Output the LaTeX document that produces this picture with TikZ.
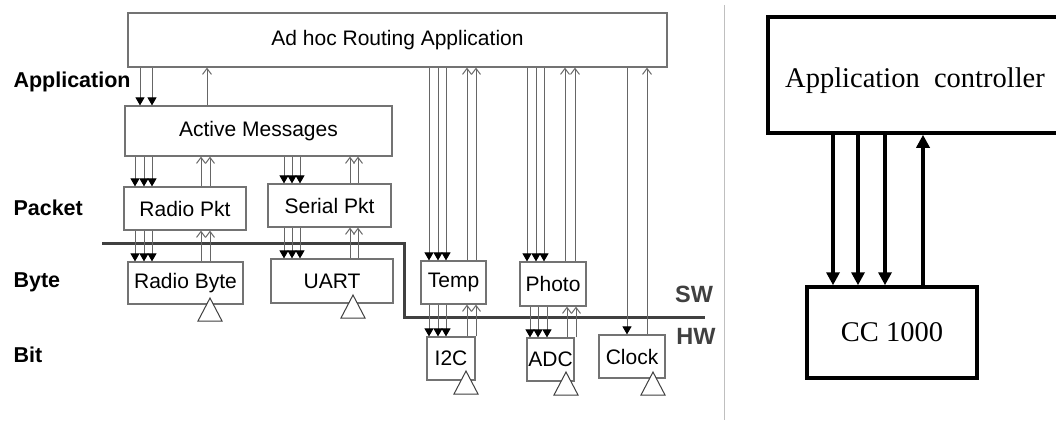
\documentclass[tikz,border=0pt]{standalone}
\usepackage{fontspec}
\setmainfont{Liberation Serif}
\newfontfamily\comic{Liberation Sans}
\usetikzlibrary{arrows.meta}

\newcommand\cmc{\comic\fontsize{21}{25}\selectfont}
\newcommand\cmcb{\comic\bfseries\fontsize{21.5}{25}\selectfont}
\newcommand\tms{\rmfamily\fontsize{28.5}{32}\selectfont}

\begin{document}
\begin{tikzpicture}[
    x=1pt, y=-1pt,
    box/.style={draw=black!55, line width=1.2pt, font=\cmc, inner sep=0pt},
    lbl/.style={font=\cmcb, anchor=west},
    swhw/.style={font=\comic\bfseries\fontsize{23.5}{26}\selectfont, text=black!75},
    dn/.style={draw=black!60, line width=1pt, -{Triangle[length=8pt,width=9pt,color=black]}},
    up/.style={draw=black!60, line width=1pt, -{Straight Barb[length=6pt,width=9pt]}},
    tri/.style={draw=black!75, line width=1pt, fill=white},
    bigbox/.style={draw, line width=3.5pt, font=\tms, inner sep=0pt},
    bigarr/.style={line width=3.5pt, -{Triangle[length=13pt,width=13pt]}},
]
    \clip (0,0) rectangle (1056,420);
    % Layers
    \node[lbl] (lapp) at (10,82) {Application};
    \node[lbl] (lpkt) at (10,208) {Packet};
    \node[lbl] (lbyte) at (10,282) {Byte};
    \node[lbl] (lbit) at (10,355) {Bit};
    % Components
    \node[box, minimum width=539pt, minimum height=54pt] (adhoc) at (397.5,40) {Ad hoc Routing Application};
    \node[box, minimum width=267pt, minimum height=50pt] (am) at (258.5,131) {Active Messages};
    \node[box, minimum width=122pt, minimum height=43pt] (rpkt) at (185,208.5) {Radio Pkt};
    \node[box, minimum width=123pt, minimum height=43pt] (spkt) at (329.5,205.5) {Serial Pkt};
    \node[box, minimum width=115pt, minimum height=42pt] (rbyte) at (185.5,283) {Radio Byte};
    \node[box, minimum width=122pt, minimum height=44pt] (uart) at (332,281) {UART};
    \node[box, minimum width=65pt, minimum height=43pt] (temp) at (453.5,282.5) {Temp};
    \node[box, minimum width=66pt, minimum height=44pt] (photo) at (553,284) {Photo};
    \node[box, minimum width=48pt, minimum height=43pt] (i2c) at (451,358.5) {I2C};
    \node[box, minimum width=47pt, minimum height=43pt] (adc) at (550.5,359.5) {ADC};
    \node[box, minimum width=66pt, minimum height=43pt] (clock) at (632,356.5) {Clock};
    % SW / HW boundary
    \draw[line width=3pt, black!75] (102,243) -- (404,243) -- (404,317) -- (705,317);
    \node[swhw] (sw) at (694,294) {SW};
    \node[swhw] (hw) at (696,336) {HW};
    % Hardware triangles
    \foreach \x/\y in {210/298, 353/295, 466/371, 566/372, 653/372}
        \draw[tri] (\x,\y) -- ++(-12,23) -- ++(24,0) -- cycle;
    % Application <-> Active Messages
    \foreach \x in {140,152}
        \draw[dn] (adhoc.south -| \x,0) -- (am.north -| \x,0);
    \draw[up] (am.north -| 207,0) -- (adhoc.south -| 207,0);
    % Radio stack
    \foreach \x in {135,144,152} {
        \draw[dn] (am.south -| \x,0) -- (rpkt.north -| \x,0);
        \draw[dn] (rpkt.south -| \x,0) -- (rbyte.north -| \x,0);
    }
    \foreach \x in {201,210} {
        \draw[up] (rpkt.north -| \x,0) -- (am.south -| \x,0);
        \draw[up] (rbyte.north -| \x,0) -- (rpkt.south -| \x,0);
    }
    % Serial stack
    \foreach \x in {284,292,300} {
        \draw[dn] (am.south -| \x,0) -- (spkt.north -| \x,0);
        \draw[dn] (spkt.south -| \x,0) -- (uart.north -| \x,0);
    }
    \foreach \x in {350,358} {
        \draw[up] (spkt.north -| \x,0) -- (am.south -| \x,0);
        \draw[up] (uart.north -| \x,0) -- (spkt.south -| \x,0);
    }
    % Sensors
    \foreach \x in {429,438,446} {
        \draw[dn] (adhoc.south -| \x,0) -- (temp.north -| \x,0);
        \draw[dn] (temp.south -| \x,0) -- (i2c.north -| \x,0);
    }
    \foreach \x in {467,476} {
        \draw[up] (temp.north -| \x,0) -- (adhoc.south -| \x,0);
        \draw[up] (i2c.north -| \x,0) -- (temp.south -| \x,0);
    }
    \foreach \x in {527,536,544}
        \draw[dn] (adhoc.south -| \x,0) -- (photo.north -| \x,0);
    \foreach \x in {530,538,547}
        \draw[dn] (photo.south -| \x,0) -- (adc.north -| \x,0);
    \foreach \x in {565,575}
        \draw[up] (photo.north -| \x,0) -- (adhoc.south -| \x,0);
    \foreach \x in {567,576}
        \draw[up] (adc.north -| \x,0) -- (photo.south -| \x,0);
    % Clock
    \draw[dn] (adhoc.south -| 627,0) -- (clock.north -| 627,0);
    \draw[up] (clock.north -| 647,0) -- (adhoc.south -| 647,0);
    % Separator
    \draw[black!25, line width=1pt] (724,5) -- (724,420);
    % Right: controller and radio
    \node[bigbox, minimum width=294pt, minimum height=116pt] (appc) at (915,75) {\raisebox{-6pt}[\height][\depth]{Application\ \ controller}};
    \node[bigbox, minimum width=170pt, minimum height=91pt] (cc) at (892,332.5) {CC 1000};
    \foreach \x in {833,858,885}
        \draw[bigarr] (appc.south -| \x,0) -- (cc.north -| \x,0);
    \draw[bigarr] (cc.north -| 923,0) -- (appc.south -| 923,0);
\end{tikzpicture}
\end{document}
